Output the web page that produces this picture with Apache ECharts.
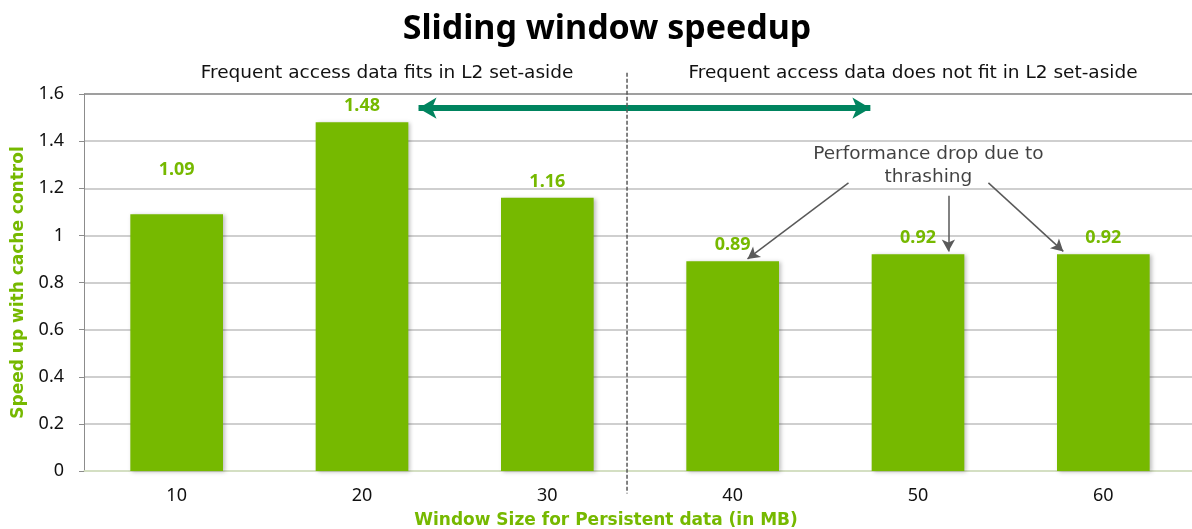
<!DOCTYPE html>
<html>
<head>
<meta charset="utf-8">
<script src="https://cdn.jsdelivr.net/npm/echarts@6/dist/echarts.min.js"></script>
<style>
  html, body { margin: 0; padding: 0; background: #fff; }
  #chart { width: 1192px; height: 529px; }
</style>
</head>
<body>
<div id="chart"></div>
<script>
const windowSizes = ['10', '20', '30', '40', '50', '60'];
const speedups = [1.09, 1.48, 1.16, 0.89, 0.92, 0.92];

// annotations, in [category position, speedup] units
const dividerX = 2.43;
const dividerY = [1.69, -0.095];
const fitArrow = [[1.305, 1.54], [3.743, 1.54]];
const dropNote = [4.056, 1.295];
const dropArrows = [
  [[3.625, 1.223], [3.08, 0.9]],
  [[4.164, 1.168], [4.164, 0.932]],
  [[4.38, 1.223], [4.784, 0.932]],
];

const green = '#76b900';
const textFont = 'DejaVu Sans';
const numFont = 'Noto Sans';

const chart = echarts.init(document.getElementById('chart'));

// the first value label sits higher than the others in the slide
const barData = speedups.map((v, i) => (i === 0 ? { value: v, label: { distance: 35 } } : v));

chart.setOption({
  textStyle: { fontFamily: textFont },
  title: [
    {
      text: 'Sliding window speedup',
      left: 602,
      textAlign: 'center',
      top: 7,
      textStyle: { fontSize: 34, fontWeight: 'bold', color: '#000', fontFamily: 'Noto Sans' },
    },
    {
      text: 'Frequent access data fits in L2 set-aside',
      left: 382,
      textAlign: 'center',
      top: 59,
      textStyle: { fontSize: 18.5, fontWeight: 'normal', color: '#111', fontFamily: textFont },
    },
    {
      text: 'Frequent access data does not fit in L2 set-aside',
      left: 908,
      textAlign: 'center',
      top: 59,
      textStyle: { fontSize: 18.5, fontWeight: 'normal', color: '#111', fontFamily: textFont },
    },
  ],
  grid: { left: 84, right: -4, top: 94, bottom: 58, outerBoundsMode: 'none', containLabel: false },
  xAxis: [
    {
      type: 'category',
      data: windowSizes,
      name: 'Window Size for Persistent data (in MB)',
      nameLocation: 'middle',
      nameGap: 41,
      nameTextStyle: {
        color: green,
        fontWeight: 'bold',
        fontSize: 17,
        fontFamily: textFont,
        padding: [0, 68, 0, 0],
      },
      axisTick: { show: false },
      axisLine: { lineStyle: { color: '#d6e5c0', width: 1.5 } },
      axisLabel: { color: '#111', fontSize: 18, margin: 16, fontFamily: numFont },
    },
    { type: 'value', min: -0.5, max: 5.5, show: false },
  ],
  yAxis: {
    type: 'value',
    min: 0,
    max: 1.6,
    interval: 0.2,
    name: 'Speed up with cache control',
    nameLocation: 'middle',
    nameGap: 57,
    nameTextStyle: { color: green, fontWeight: 'bold', fontSize: 17, fontFamily: textFont },
    axisLine: { show: true, onZero: false, lineStyle: { color: '#8c8c8c' } },
    axisLabel: {
      color: '#111',
      fontSize: 18,
      margin: 20,
      fontFamily: numFont,
      formatter: (v) => +v.toFixed(1) + '',
    },
    splitLine: {
      lineStyle: {
        color: ['#bfbfbf', '#bfbfbf', '#bfbfbf', '#bfbfbf', '#bfbfbf', '#bfbfbf', '#bfbfbf', '#bfbfbf', '#7f7f7f'],
        width: 1.5,
      },
    },
  },
  series: [
    {
      type: 'bar',
      data: barData,
      barWidth: '50%',
      itemStyle: {
        color: green,
        shadowColor: 'rgba(0,0,0,0.25)',
        shadowBlur: 4,
        shadowOffsetX: 2,
        shadowOffsetY: 1,
      },
      label: {
        show: true,
        position: 'top',
        distance: 7,
        color: green,
        fontSize: 18,
        fontWeight: 'bold',
        fontFamily: numFont,
        formatter: (p) => p.value.toFixed(2),
      },
    },
    {
      // annotation layer
      type: 'scatter',
      xAxisIndex: 1,
      clip: false,
      symbolSize: 0,
      silent: true,
      data: [dropNote],
      label: {
        show: true,
        position: 'inside',
        color: '#111',
        fontSize: 18.5,
        lineHeight: 23,
        fontFamily: textFont,
        formatter: 'Performance drop due to\nthrashing',
      },
      markLine: {
        silent: true,
        animation: false,
        label: { show: false },
        data: [
          [
            { coord: fitArrow[0], symbol: 'arrow', symbolSize: [16, 18], lineStyle: { color: '#00845f', width: 6, type: 'solid' } },
            { coord: fitArrow[1], symbol: 'arrow', symbolSize: [16, 18] },
          ],
        ].concat(dropArrows.map((a) => [
          { coord: a[0], symbol: 'none', lineStyle: { color: '#595959', width: 1.5, type: 'solid' } },
          { coord: a[1], symbol: 'arrow', symbolSize: [10, 12] },
        ])),
      },
    },
  ],
});

// dashed divider runs past the plot area, so place it from the axis scales
const divTop = chart.convertToPixel({ xAxisIndex: 1, yAxisIndex: 0 }, [dividerX, dividerY[0]]);
const divBottom = chart.convertToPixel({ xAxisIndex: 1, yAxisIndex: 0 }, [dividerX, dividerY[1]]);
chart.setOption({
  graphic: [
    {
      type: 'line',
      silent: true,
      z: 10,
      shape: { x1: divTop[0], y1: divTop[1], x2: divBottom[0], y2: divBottom[1] },
      style: { stroke: '#595959', lineWidth: 1.5, lineDash: [4, 2] },
    },
  ],
});
</script>
</body>
</html>
